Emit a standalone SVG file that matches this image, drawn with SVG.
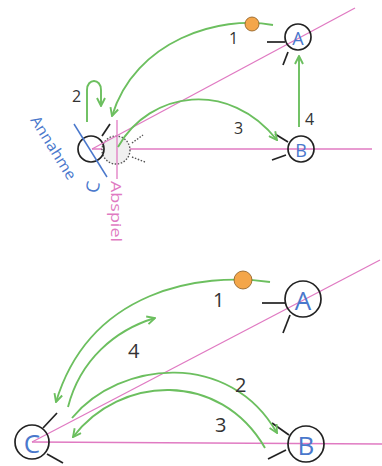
<svg xmlns="http://www.w3.org/2000/svg" width="382" height="466" viewBox="0 0 382 466">
<defs>
<style>
.pl{stroke:#e07ac2;stroke-width:1.3;fill:none}
.pc{fill:none;stroke:#222;stroke-width:1.7}
.tk{stroke:#222;stroke-width:1.7;fill:none}
.dt{stroke:#555;stroke-width:1.4;stroke-dasharray:1.5 1.6;fill:none}
.ar{stroke:#6cbf5f;stroke-width:1.9;fill:none}
.ball{fill:#f4a64a;stroke:#8a5a20;stroke-width:0.8}
.lb{font-family:"Open Sans","Liberation Sans",sans-serif;fill:#333}
.pn{font-family:"Open Sans","Liberation Sans",sans-serif;fill:#4a78cc;text-anchor:middle;dominant-baseline:central}
</style>
<marker id="ah" viewBox="0 0 10 10" refX="9" refY="5" markerWidth="10" markerHeight="10" orient="auto" markerUnits="userSpaceOnUse">
<path d="M1,1 L9,5 L1,9" fill="none" stroke="#6cbf5f" stroke-width="1.9"/>
</marker>
</defs>

<!-- top diagram -->
<g id="top-lines">
<line class="pl" x1="92" y1="149" x2="372" y2="149"/>
</g>
<g id="top-ghost">
<circle cx="116" cy="150" r="14" fill="#f0f0f0" class="dt" style="fill:#f0f0f0"/>
<line class="dt" x1="132" y1="143" x2="143" y2="135"/>
<line class="dt" x1="132" y1="157" x2="145" y2="162"/>
</g>
<g id="top-C">
<circle class="pc" cx="91" cy="149" r="13"/>
<line class="tk" x1="102" y1="136" x2="110" y2="124"/>
</g>
<g id="top-lines2">
<line class="pl" x1="92" y1="149" x2="355" y2="8"/>
<line class="pl" x1="117" y1="120" x2="117" y2="179"/>
<line x1="74" y1="124" x2="107" y2="177" stroke="#4a78cc" stroke-width="1.5"/>
</g>
<g id="top-A">
<circle class="pc" cx="298" cy="37" r="13"/>
<line class="tk" x1="267" y1="42" x2="285" y2="42"/>
<line class="tk" x1="288" y1="52" x2="283" y2="65"/>
<text class="pn" x="298" y="38" font-size="18">A</text>
</g>
<g id="top-B">
<circle class="pc" cx="301" cy="149" r="13"/>
<line class="tk" x1="275" y1="134" x2="288" y2="142"/>
<line class="tk" x1="272" y1="160" x2="286" y2="155"/>
<text class="pn" x="301" y="150" font-size="18">B</text>
</g>
<g id="top-labels">
<text x="30" y="120" transform="rotate(58 30 120)" font-family="'Open Sans','Liberation Sans',sans-serif" font-size="15" fill="#4a78cc" textLength="72" lengthAdjust="spacingAndGlyphs">Annahme</text>
<text x="92" y="187" transform="rotate(-80 92 187)" class="pn" font-size="18">C</text>
<text x="111" y="181" transform="rotate(90 111 181)" font-family="'Open Sans','Liberation Sans',sans-serif" font-size="14" fill="#e07ac2" textLength="61" lengthAdjust="spacingAndGlyphs">Abspiel</text>
</g>
<g id="top-connectors">
<path class="ar" d="M273,25 C220,15 135,40 112,116" marker-end="url(#ah)"/>
<path class="ar" d="M87,122 L87,90 C87,78 101,78 101,90 L101,106" marker-end="url(#ah)"/>
<path class="ar" d="M118,147 C150,90 230,80 277,140" marker-end="url(#ah)"/>
<line class="ar" x1="299" y1="127" x2="299" y2="56" marker-end="url(#ah)"/>
<text class="lb" x="229" y="44" font-size="16">1</text>
<text class="lb" x="72" y="102" font-size="16">2</text>
<text class="lb" x="234" y="134" font-size="16">3</text>
<text class="lb" x="305" y="125" font-size="16">4</text>
</g>
<g id="top-ball"><circle class="ball" cx="252" cy="24" r="7"/></g>

<!-- bottom diagram -->
<g id="bot-lines">
<line class="pl" x1="32" y1="442" x2="382" y2="444"/>
<line class="pl" x1="32" y1="442" x2="380" y2="260"/>
</g>
<g id="bot-A">
<circle class="pc" cx="303" cy="299" r="18"/>
<line class="tk" x1="262" y1="303" x2="285" y2="303"/>
<line class="tk" x1="290" y1="315" x2="283" y2="333"/>
<text class="pn" x="303" y="300" font-size="26">A</text>
</g>
<g id="bot-B">
<circle class="pc" cx="306" cy="444" r="18"/>
<line class="tk" x1="272" y1="423" x2="289" y2="435"/>
<line class="tk" x1="268" y1="459" x2="286" y2="450"/>
<text class="pn" x="306" y="445" font-size="26">B</text>
</g>
<g id="bot-C">
<circle class="pc" cx="32" cy="442" r="17"/>
<line class="tk" x1="43" y1="428" x2="57" y2="413"/>
<line class="tk" x1="47" y1="454" x2="63" y2="463"/>
<text class="pn" x="32" y="443" font-size="26">C</text>
</g>
<g id="bot-connectors">
<path class="ar" d="M270,282 C200,272 90,290 56,402" marker-end="url(#ah)"/>
<path class="ar" d="M68,407 C80,360 115,330 155,318" marker-end="url(#ah)"/>
<path class="ar" d="M72,418 C120,360 230,350 277,433" marker-end="url(#ah)"/>
<path class="ar" d="M265,448 C220,370 120,375 73,437" marker-end="url(#ah)"/>
<text class="lb" x="213" y="307" font-size="20">1</text>
<text class="lb" x="128" y="358" font-size="20">4</text>
<text class="lb" x="235" y="392" font-size="20">2</text>
<text class="lb" x="215" y="432" font-size="20">3</text>
</g>
<g id="bot-ball"><circle class="ball" cx="243" cy="280" r="9"/></g>
</svg>
